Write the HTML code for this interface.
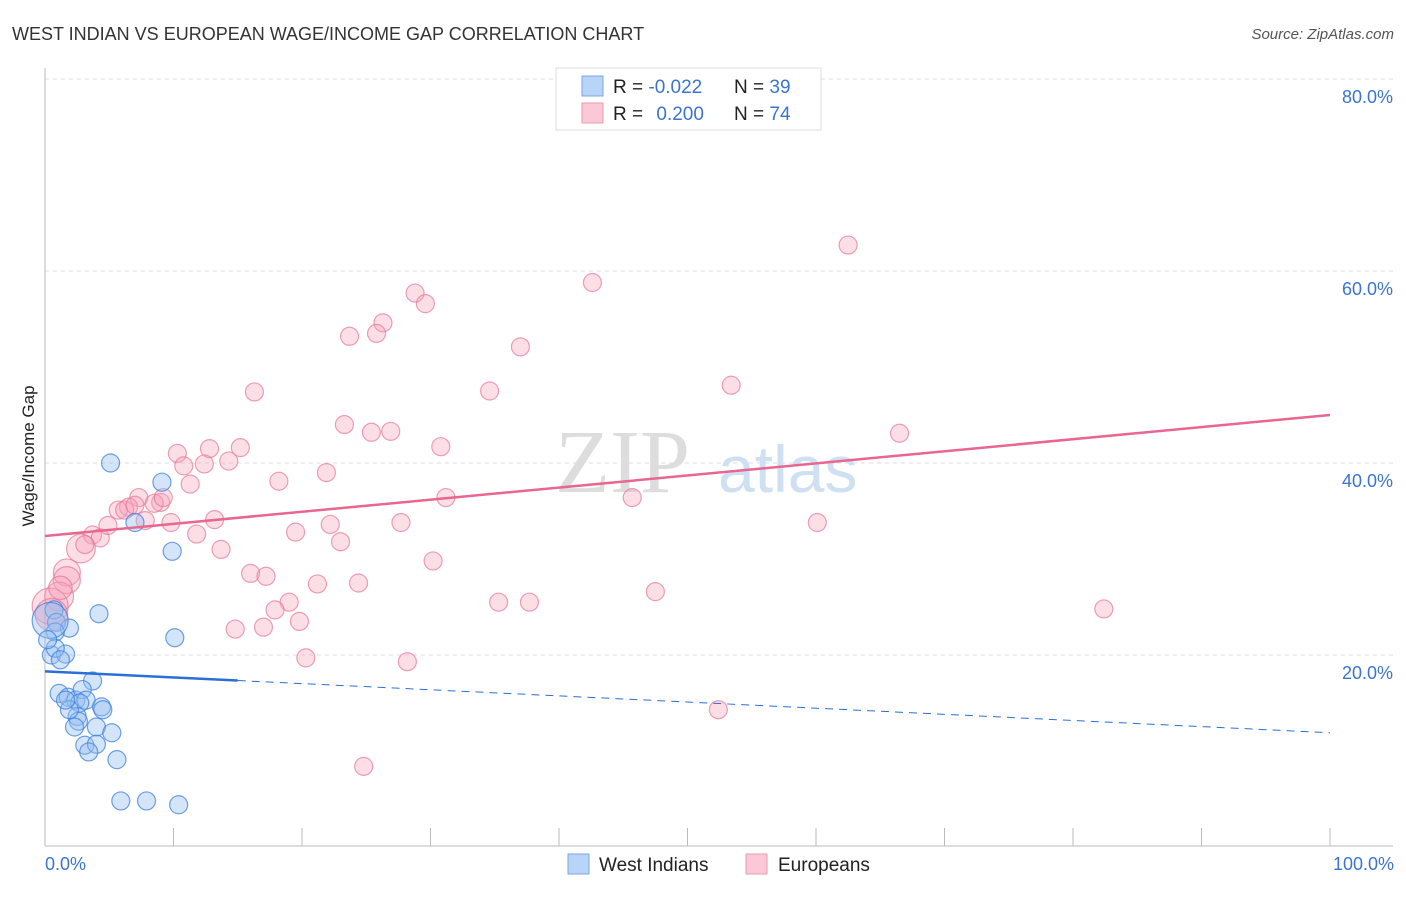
<!DOCTYPE html>
<html><head><meta charset="utf-8"><style>
body{margin:0;background:#fff;font-family:"Liberation Sans",sans-serif}
svg text{font-family:"Liberation Sans",sans-serif}
</style></head><body>
<svg width="1406" height="892" viewBox="0 0 1406 892" xmlns="http://www.w3.org/2000/svg">
<text x="12" y="40" font-size="18" fill="#333">WEST INDIAN VS EUROPEAN WAGE/INCOME GAP CORRELATION CHART</text>
<text x="1394" y="39" font-size="15" fill="#555" text-anchor="end" font-style="italic">Source: ZipAtlas.com</text>
<g id="grid"></g>
<g id="axes"></g>
<text x="555" y="492" font-size="90" fill="#ddd" font-family="Liberation Serif" style="font-family:'Liberation Serif',serif">ZIP</text>
<text x="718" y="492" font-size="66" fill="#cfe0f3">atlas</text>
<g id="pts"></g>
<g id="trends"></g>
<text transform="translate(34,456) rotate(-90)" font-size="17" fill="#222" text-anchor="middle">Wage/Income Gap</text>
<text x="45" y="870" font-size="18" fill="#3b74d0">0.0%</text>
<text x="1394" y="870" font-size="18" fill="#3b74d0" text-anchor="end">100.0%</text>
<g>
<rect x="556" y="68" width="265" height="62" fill="#fff" stroke="#ddd"/>
<rect x="582" y="76" width="21" height="20" fill="#b8d4f7" stroke="#7aa8e6"/>
<rect x="582" y="103" width="21" height="20" fill="#fac8d6" stroke="#eb9ab2"/>
<text x="613" y="93" font-size="19" fill="#222">R = <tspan fill="#3b74d0">-0.022</tspan></text>
<text x="734" y="93" font-size="19" fill="#222">N = <tspan fill="#3b74d0">39</tspan></text>
<text x="613" y="120" font-size="19" fill="#222">R = <tspan fill="#3b74d0" dx="8">0.200</tspan></text>
<text x="734" y="120" font-size="19" fill="#222">N = <tspan fill="#3b74d0">74</tspan></text>
</g>
<g>
<rect x="568" y="854" width="21" height="20" fill="#b8d4f7" stroke="#7aa8e6"/>
<text x="599" y="871" font-size="19" fill="#222">West Indians</text>
<rect x="746" y="854" width="21" height="20" fill="#fac8d6" stroke="#eb9ab2"/>
<text x="778" y="871" font-size="19" fill="#222">Europeans</text>
</g>
</svg>
<script>
const yTicks=[20,40,60,80];
const xTicks=[0,10,20,30,40,50,60,70,80,90,100];
const blueX=[5.1,9.1,9.9,4.2,10.1,0.7,0.9,1.9,0.8,0.5,1.6,0.8,3.7,1.1,1.8,2.4,2.9,3.2,2.7,4.4,4.5,2.5,2.6,4.0,2.3,5.2,3.1,4.0,3.4,5.6,5.9,7.9,10.4,7.0,0.4,0.2,1.2,1.9,1.6];
const blueY=[40.0,38.0,30.8,24.3,21.8,24.7,23.4,22.8,22.4,20.0,20.1,20.7,17.3,16.0,15.6,15.3,16.4,15.3,15.0,14.6,14.3,13.6,13.1,12.5,12.5,11.9,10.6,10.7,9.9,9.1,4.8,4.8,4.4,33.8,23.6,21.6,19.5,14.3,15.3];
const blueW=[1,1,1,1,1,1,1,1,1,1,1,1,1,1,1,1,1,1,1,1,1,1,1,1,1,1,1,1,1,1,1,1,1,1,2,1,1,1,1];
const pinkX=[62.5,42.6,28.8,29.6,26.3,25.8,23.7,37.0,53.4,34.6,16.3,23.3,25.4,26.9,66.5,30.8,15.2,12.8,10.3,10.8,12.4,14.3,11.3,18.2,21.9,31.2,45.7,9.0,7.3,8.5,6.5,5.7,7.8,9.8,13.2,22.2,27.7,60.1,3.7,4.3,11.8,19.5,23.0,13.7,2.8,30.2,16.0,17.2,1.7,1.7,1.1,21.2,24.4,19.0,35.3,37.7,47.5,82.4,17.9,19.8,14.8,17.0,20.3,28.2,52.4,24.8,0.4,0.5,6.2,4.9,7.0,9.2,3.1,1.2];
const pinkY=[62.7,58.8,57.7,56.6,54.6,53.5,53.2,52.1,48.1,47.5,47.4,44.0,43.2,43.3,43.1,41.7,41.6,41.5,41.0,39.7,39.9,40.2,37.8,38.1,39.0,36.4,36.4,35.9,36.4,35.8,35.4,35.1,34.0,33.8,34.1,33.6,33.8,33.8,32.5,32.2,32.6,32.8,31.8,31.0,31.1,29.8,28.5,28.2,28.6,27.8,26.1,27.4,27.5,25.5,25.5,25.5,26.6,24.8,24.7,23.5,22.7,22.9,19.7,19.3,14.3,8.4,25.1,24.2,35.1,33.5,35.6,36.4,31.5,27.0];
const pinkW=[1,1,1,1,1,1,1,1,1,1,1,1,1,1,1,1,1,1,1,1,1,1,1,1,1,1,1,1,1,1,1,1,1,1,1,1,1,1,1,1,1,1,1,1,1.6,1,1,1,1.5,1.5,1.6,1,1,1,1,1,1,1,1,1,1,1,1,1,1,1,2,1.8,1,1,1,1,1,1.3];
const pinkTrend=[32.4,45.0];
const blueTrend=[18.3,11.9];
const blueSolidEnd=15;
const NS='http://www.w3.org/2000/svg';
const X=v=>45+v*12.85, Y=v=>847-v*9.6;
function mk(t,a,p){const e=document.createElementNS(NS,t);for(const k in a)e.setAttribute(k,a[k]);p.appendChild(e);return e;}
const grid=document.getElementById('grid'),axes=document.getElementById('axes'),pts=document.getElementById('pts'),tr=document.getElementById('trends');
yTicks.forEach(t=>{
 const l=mk('line',{x1:45,x2:1393,y1:Y(t),y2:Y(t),stroke:'#ddd','stroke-dasharray':'4,4'},grid);
 
 
 const tx=mk('text',{x:1393,y:Y(t)+24,'font-size':18,fill:'#3b74d0','text-anchor':'end'},grid);
 tx.textContent=t.toFixed(1)+'%';
 
 
});
const ax=mk('line',{x1:45,x2:45,y1:68,y2:846,stroke:'#bbb'},axes);


const bx=mk('line',{x1:45,x2:1393,y1:846,y2:846,stroke:'#bbb'},axes);


xTicks.forEach(t=>{
 const l=mk('line',{x1:X(t),x2:X(t),y1:828,y2:846,stroke:'#bbb'},axes);
 
 
});
pinkX.forEach((v,i)=>{
 const c=mk('circle',{cx:X(v),cy:Y(pinkY[i]),r:9*pinkW[i],fill:'rgba(245,160,185,0.35)',stroke:'rgba(230,120,155,0.7)','stroke-width':1.2},pts);
 
 
});
blueX.forEach((v,i)=>{
 const c=mk('circle',{cx:X(v),cy:Y(blueY[i]),r:9*blueW[i],fill:'rgba(150,190,240,0.4)',stroke:'rgba(60,130,220,0.75)','stroke-width':1.2},pts);
 
 
});
const pl=mk('line',{x1:X(0),y1:Y(pinkTrend[0]),x2:X(100),y2:Y(pinkTrend[1]),stroke:'#e8668f','stroke-width':2.5},tr);


const bm=blueTrend[0]+(blueTrend[1]-blueTrend[0])*blueSolidEnd/100;
const bl=mk('line',{x1:X(0),y1:Y(blueTrend[0]),x2:X(blueSolidEnd),y2:Y(bm),stroke:'#2a6fd6','stroke-width':2.5},tr);


const bd=mk('line',{x1:X(blueSolidEnd),y1:Y(bm),x2:X(100),y2:Y(blueTrend[1]),stroke:'#2a6fd6','stroke-width':1,'stroke-dasharray':'8,6'},tr);


</script>
</body></html>
